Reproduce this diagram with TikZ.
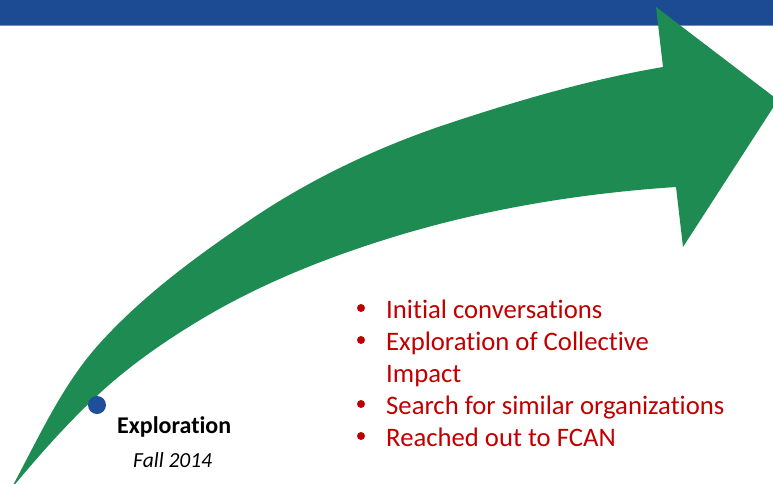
\documentclass[tikz,border=0pt]{standalone}
\usepackage{fontspec}
\setmainfont{Carlito}[Ligatures={NoCommon}]
\definecolor{barblue}{HTML}{1C4B94}
\definecolor{barline}{HTML}{6F8FC4}
\definecolor{arrowgreen}{HTML}{1E8C52}
\definecolor{dotblue}{HTML}{1F4E9A}
\definecolor{itemred}{HTML}{C00000}
\tikzset{
  itemtext/.style={anchor=base west, inner sep=0pt, text=itemred, font=\fontsize{26.7}{32}\selectfont},
  bulletdot/.style={circle, fill=itemred, inner sep=0pt, minimum size=8pt},
}
\begin{document}
\begin{tikzpicture}[x=1pt,y=-1pt]
\useasboundingbox (0,0) rectangle (773,484);
\clip (0,0) rectangle (773,484);
% top bar
\fill[barblue] (0,0) rectangle (773,26);
\draw[barline, line width=1pt] (0,26) -- (773,26);
% curved arrow
\fill[arrowgreen]
  (11,489) .. controls (38.7,437.7) and (62.3,384.4) .. (100,343)
  .. controls (143.7,294.9) and (196.2,256.5) .. (250,220)
  .. controls (311.2,178.4) and (379.8,146.2) .. (450,123)
  .. controls (519.3,100.1) and (591,79.2) .. (663,67)
  -- (656,7) -- (778,100) -- (683,247) -- (676,187)
  .. controls (583.2,193.1) and (489.1,208.3) .. (400,235)
  .. controls (331,255.7) and (261.7,282.9) .. (200,320)
  .. controls (164.9,341.1) and (130.2,365.2) .. (100,393)
  .. controls (67.6,422.8) and (39.2,455.2) .. (11,489)
  -- cycle;
% milestone
\fill[dotblue] (97,405) circle (9);
\node[anchor=base west, inner sep=0pt, font=\fontsize{24}{29}\selectfont\bfseries] (expl) at (117,433) {Exploration};
\node[anchor=base west, inner sep=0pt, font=\fontsize{21.5}{25}\selectfont\itshape] (fall) at (133,467) {Fall 2014};
% items
\node[itemtext] (i1) at (386,318) {Initial conversations};
\node[itemtext] (i2) at (386,350) {Exploration of Collective};
\node[itemtext] (i2b) at (386,382) {Impact};
\node[itemtext] (i3) at (386,414) {Search for similar organizations};
\node[itemtext] (i4) at (386,446) {Reached out to FCAN};
\node[bulletdot] (b1) at (361,308) {};
\node[bulletdot] (b2) at (361,340) {};
\node[bulletdot] (b3) at (361,404) {};
\node[bulletdot] (b4) at (361,436) {};
\end{tikzpicture}
\end{document}
